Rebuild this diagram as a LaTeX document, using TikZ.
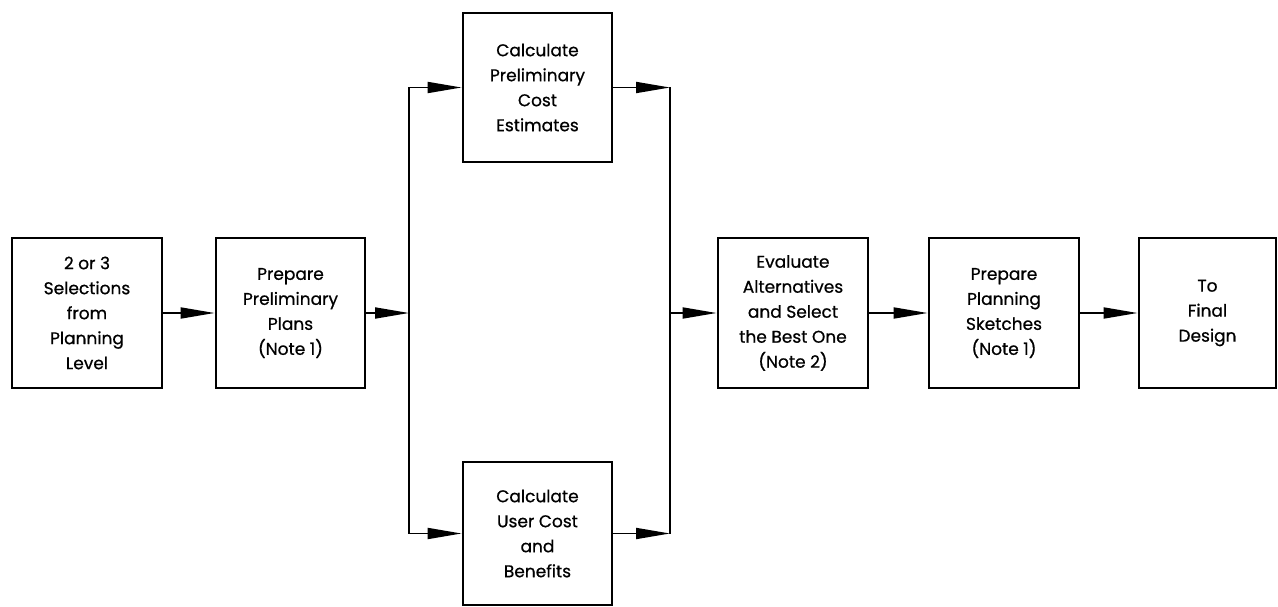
\documentclass[tikz,border=0pt]{standalone}
\usepackage{fontspec}
\setmainfont{Poppins}
\newfontfamily\boxfont{Poppins}[FakeBold=0.7]
\usetikzlibrary{arrows.meta}
\begin{document}
\begin{tikzpicture}[x=1pt,y=-1pt,
  box/.style={draw, line width=2.8pt, inner sep=0pt, align=center,
    font=\boxfont\fontsize{17}{25}\selectfont,
    minimum width=150pt, minimum height=150pt},
  flow/.style={line width=1.8pt, -{Triangle[length=34pt,width=11pt]}},
  wire/.style={line width=1.8pt}]
\useasboundingbox (0,0) rectangle (1278,607);

% main row
\node[box] (sel)  at (87,313)     {2 or 3\\Selections\\from\\Planning\\Level};
\node[box, minimum width=149pt] (plan) at (290.5,313) {Prepare\\Preliminary\\Plans\\(Note 1)};
\node[box] (eval) at (793,313)    {Evaluate\\Alternatives\\and Select\\the Best One\\(Note 2)};
\node[box] (sketch) at (1004,313) {Prepare\\Planning\\Sketches\\(Note 1)};
\node[box, minimum width=137pt] (final) at (1207.5,313) {To\\Final\\Design};

% parallel branch
\node[box, minimum width=149pt, minimum height=149pt] (cost) at (537.5,87.5) {Calculate\\Preliminary\\Cost\\Estimates};
\node[box, minimum width=149pt, minimum height=143pt] (user) at (537.5,533.5) {Calculate\\User Cost\\and\\Benefits};

% split and join rails
\coordinate (split) at (409,313);
\coordinate (join)  at (670,313);

\draw[flow] (sel) -- (plan);
\draw[flow] (plan) -- (split);
\draw[wire] (split |- cost.west) -- (split |- user.west);
\draw[flow] (split |- cost.west) -- (cost.west);
\draw[flow] (split |- user.west) -- (user.west);
\draw[flow] (cost.east) -- (join |- cost.east);
\draw[flow] (user.east) -- (join |- user.east);
\draw[wire] (join |- cost.east) -- (join |- user.east);
\draw[flow] (join) -- (eval);
\draw[flow] (eval) -- (sketch);
\draw[flow] (sketch) -- (final);
\end{tikzpicture}
\end{document}
